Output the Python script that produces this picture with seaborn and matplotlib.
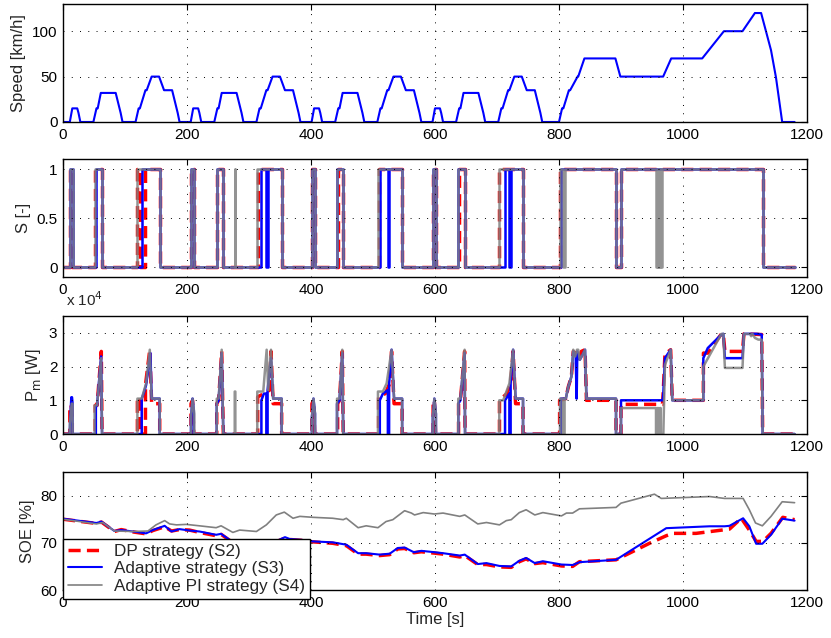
import numpy as np
import pandas as pd
import matplotlib
matplotlib.use('Agg')
import matplotlib.pyplot as plt
import seaborn as sns

# ---- speed profile (NEDC): one urban block, used 4 times, then the extra-urban part
ece_time = [0, 11, 15, 23, 25, 28, 49, 54, 56, 61, 85, 93, 96, 117, 122, 124, 133, 135, 143, 155, 163, 176, 185, 188, 195]
ece_speed = [0, 0, 15, 15, 10, 0, 0, 15, 15, 32, 32, 10, 0, 0, 15, 15, 35, 35, 50, 50, 35, 35, 10, 0, 0]
ece_period = 195
eudc_time = [780, 800, 805, 807, 816, 818, 830, 831, 841, 891, 899, 968, 981, 1031, 1066, 1096, 1116, 1126, 1135, 1142, 1150, 1160, 1180]
eudc_speed = [0, 0, 15, 15, 35, 35, 50, 50, 70, 70, 50, 50, 70, 70, 100, 100, 120, 120, 97, 79, 49, 0, 0]

# ---- motor switch S: intervals where S = 1
s_dp_on = [(11, 15), (52, 63), (120, 124), (133, 156), (206.5, 211), (248, 258.6), (314, 352.7),
           (401.5, 406), (443, 452), (509, 547), (597, 601), (638, 648.5), (704, 742),
           (801, 892), (900, 1128.5)]
s_ad_on = [(11, 15.5), (53, 63), (127, 156), (206.5, 211), (248, 258.6), (320, 328), (330, 352.7),
           (401.5, 406.5), (442, 452), (511, 524), (526, 547), (596.5, 601.5), (637.6, 648.5),
           (713, 720), (722, 742), (803, 892), (900, 1128.5)]
s_pi_on = [(11, 15.5), (51, 63), (120, 156), (206.5, 211.8), (248, 258.6), (277, 278), (313.4, 352.7),
           (401.5, 406.5), (442, 452), (508, 547), (596.5, 601.5), (637.6, 648.5), (703.7, 742),
           (801.6, 806), (809, 892), (900, 956.5), (959, 960), (963, 964), (965.6, 1128.5)]

# ---- motor power P_m [x 10^4 W], (time, value) vertices
pm_dp = [(0, 0), (11, 0), (11, 0.86), (13, 0.86), (15, 0.5), (15, 0),
         (52, 0), (52, 0.85), (55, 0.85), (61.8, 2.45), (63, 0),
         (120, 0), (120, 1.0), (124, 1.1), (124, 0), (133, 0), (133, 1.45), (140, 2.5), (143, 0.9), (156, 0.9), (156, 0),
         (206.5, 0), (206.5, 0.9), (209, 1.0), (211, 0),
         (248, 0), (248, 0.9), (251, 1.0), (256, 2.45), (258.6, 0),
         (314, 0), (314, 1.1), (324, 1.2), (333, 1.3), (335.5, 2.45), (339, 0.9), (352.7, 0.9), (352.7, 0),
         (401.5, 0), (401.5, 0.9), (404, 1.0), (406, 0),
         (443, 0), (443, 0.9), (446, 1.0), (450.5, 2.45), (452, 0),
         (509, 0), (509, 1.1), (520, 1.2), (527, 1.5), (530, 2.45), (534, 0.9), (547, 0.9), (547, 0),
         (597, 0), (597, 0.9), (599, 1.0), (601, 0),
         (638, 0), (638, 0.9), (641, 1.0), (647.8, 2.45), (648.5, 0),
         (704, 0), (704, 1.0), (716, 1.2), (722, 1.5), (726, 2.45), (730, 0.9), (742, 0.9), (742, 0),
         (801, 0), (801, 1.0), (811, 1.05), (815, 1.4), (820, 1.7), (823, 2.45), (827, 2.35), (829, 2.45),
         (833.5, 2.25), (836, 2.45), (842, 2.5), (844.3, 1.0), (892, 1.0), (892, 0),
         (900, 0), (900, 0.88), (967, 0.88), (968.3, 1.3), (971, 2.4), (973, 2.4), (980.1, 2.5), (982.7, 1.0),
         (1032.8, 1.0), (1033, 2.4), (1040, 2.4), (1046, 2.55), (1062, 2.97), (1065, 2.97), (1067.6, 2.45),
         (1096, 2.45), (1098.3, 2.97), (1127, 2.95), (1128.5, 0), (1180, 0)]
pm_ad = [(0, 0), (11, 0), (11.5, 0.3), (13.5, 1.09), (14.5, 1.09), (15.5, 0.9), (15.5, 0),
         (53, 0), (53, 0.8), (55, 0.85), (61.5, 2.3), (63, 0),
         (127, 0), (127, 1.05), (130, 1.2), (134, 1.45), (141, 2.4), (143, 1.05), (156, 1.05), (156, 0),
         (206.5, 0), (206.5, 0.5), (209, 1.05), (211, 0.7), (211, 0),
         (248, 0), (248, 0.9), (251, 1.0), (256, 2.4), (258.6, 0),
         (320, 0), (320, 1.0), (324, 1.2), (328, 1.2), (328, 0), (330, 0), (330, 1.3), (335.5, 2.25),
         (339, 1.05), (352.7, 1.05), (352.7, 0),
         (401.5, 0), (401.5, 0.5), (404, 1.05), (406.5, 0.6), (406.5, 0),
         (442, 0), (442, 0.9), (446, 1.0), (450.5, 2.4), (452, 0),
         (511, 0), (511, 1.0), (516, 1.2), (524, 1.3), (524, 0), (526, 0), (526, 1.5), (530, 2.5),
         (534, 1.05), (547, 1.05), (547, 0),
         (596.5, 0), (596.5, 0.5), (599, 1.05), (601.5, 0.6), (601.5, 0),
         (637.6, 0), (637.6, 0.9), (641, 1.0), (647.8, 2.4), (648.5, 0),
         (713, 0), (713, 1.0), (720, 1.2), (720, 0), (722, 0), (722, 1.5), (726, 2.5), (730, 1.05), (742, 1.05), (742, 0),
         (803, 0), (803, 1.05), (811, 1.05), (815, 1.4), (820, 1.7), (823, 2.45), (827, 2.3), (828.5, 1.05),
         (829.5, 2.45), (833.5, 2.2), (838, 2.35), (842, 2.5), (844.3, 1.05), (892, 1.05), (892, 0),
         (900, 0), (900, 1.0), (967.2, 1.0), (968.3, 1.2), (970.9, 2.25), (980.1, 2.5), (982.7, 1.0),
         (1032.8, 1.0), (1032.8, 2.25), (1040, 2.55), (1062, 2.95), (1065, 2.97), (1067.6, 2.25),
         (1096, 2.25), (1098.3, 2.97), (1120, 2.97), (1127, 2.95), (1128.5, 0), (1180, 0)]
pm_pi = [(0, 0), (11, 0), (11, 0.3), (14, 0.9), (15.5, 0.9), (15.5, 0),
         (51, 0), (51, 0.85), (55, 0.85), (61.5, 2.25), (63, 0),
         (120, 0), (120, 1.05), (127, 1.05), (134, 1.5), (140, 2.5), (143, 1.05), (156, 1.05), (156, 0),
         (206.5, 0), (206.5, 0.5), (209, 1.05), (211.8, 0.6), (211.8, 0),
         (248, 0), (248, 1.05), (251, 1.05), (256, 2.5), (258.6, 0),
         (277, 0), (277, 1.26), (278, 1.26), (278, 0),
         (313.4, 0), (313.4, 1.26), (323, 1.26), (328.5, 2.5), (331, 1.3), (335.5, 2.5), (339, 1.05),
         (352.7, 1.05), (352.7, 0),
         (401.5, 0), (401.5, 0.5), (404, 1.05), (406.5, 0.6), (406.5, 0),
         (442, 0), (442, 1.05), (446, 1.05), (450.5, 2.5), (452, 0),
         (508, 0), (508, 1.26), (516, 1.26), (522, 1.5), (530, 2.5), (534, 1.05), (547, 1.05), (547, 0),
         (596.5, 0), (596.5, 0.5), (599, 1.05), (601.5, 0.6), (601.5, 0),
         (637.6, 0), (637.6, 1.05), (641, 1.05), (647.8, 2.5), (648.5, 0),
         (703.7, 0), (703.7, 1.0), (710, 1.0), (716, 1.3), (720, 1.5), (726, 2.5), (730, 1.05), (742, 1.05), (742, 0),
         (801.6, 0), (801.6, 1.05), (806, 1.05), (806, 0), (809, 0), (809, 1.05), (811, 1.05), (815, 1.4),
         (820, 1.7), (823, 2.5), (826, 2.3), (829, 2.5), (831, 2.5), (833.5, 2.2), (838, 2.35), (842, 2.5),
         (844.3, 1.05), (892, 1.05), (892, 0),
         (900, 0), (900, 0.77), (956.5, 0.77), (956.5, 0), (959, 0), (959, 0.77), (960, 0.77), (960, 0),
         (963, 0), (963, 0.77), (964, 0.77), (964, 0), (968.3, 0), (970.9, 2.05), (980.1, 2.5), (982.7, 1.0),
         (1032.8, 1.0), (1032.8, 2.0), (1062, 2.97), (1065, 2.97), (1067.6, 1.96), (1096, 1.96),
         (1098.3, 2.97), (1108, 2.97), (1110, 2.9), (1112, 2.97), (1116, 2.85), (1121.5, 2.8), (1127, 2.8),
         (1128.5, 0), (1180, 0)]

# ---- state of energy [%]
soe_dp_time = [0, 54, 62, 83, 94, 113, 134, 145, 164, 175, 188, 204, 220, 247, 255, 269, 285, 300, 315, 330,
               345, 358, 366, 387, 403, 435, 457, 476, 489, 511, 527, 540, 551, 566, 578, 600, 613, 640, 648,
               669, 683, 704, 723, 736, 747, 761, 774, 804, 822, 833, 892, 946, 973, 984, 1021, 1075, 1094,
               1107, 1118, 1129, 1142, 1161, 1180]
soe_dp = [75.0, 74.1, 74.4, 72.4, 72.8, 72.3, 71.9, 72.6, 73.4, 72.5, 72.8, 72.7, 72.2, 71.5, 71.8, 70.5,
          69.7, 69.4, 69.2, 69.5, 70.3, 71.0, 70.7, 70.5, 70.2, 69.9, 69.4, 67.6, 67.6, 67.3, 67.5, 68.7,
          68.8, 67.9, 68.1, 67.8, 67.6, 67.0, 67.3, 65.4, 65.4, 64.9, 64.8, 66.0, 66.6, 65.6, 65.8, 65.1,
          65.0, 66.0, 66.4, 69.9, 71.5, 72.0, 72.0, 72.9, 75.2, 72.7, 70.3, 70.3, 72.0, 75.4, 74.9]
soe_ad_time = [0, 54, 62, 83, 94, 113, 134, 145, 164, 175, 188, 204, 220, 247, 255, 269, 285, 300, 315, 330,
               345, 358, 366, 387, 403, 435, 457, 476, 489, 511, 527, 540, 551, 566, 578, 600, 613, 640, 648,
               669, 683, 704, 723, 736, 747, 761, 774, 804, 822, 833, 892, 973, 1043, 1067, 1075, 1097, 1107,
               1118, 1128, 1142, 1160, 1180]
soe_ad = [75.1, 74.2, 74.5, 72.5, 72.7, 72.4, 72.0, 72.7, 73.6, 72.4, 72.9, 72.6, 72.4, 71.7, 71.9, 70.6,
          69.8, 69.6, 69.4, 69.7, 70.4, 71.2, 70.8, 70.6, 70.3, 70.1, 69.6, 67.8, 67.8, 67.5, 67.7, 68.9,
          69.0, 68.0, 68.3, 68.0, 67.8, 67.3, 67.5, 65.5, 65.7, 65.1, 65.0, 66.2, 66.8, 65.7, 66.1, 65.4,
          65.3, 65.9, 66.4, 73.1, 73.5, 73.5, 73.6, 75.2, 73.5, 69.8, 69.8, 71.7, 75.1, 74.7]
soe_pi_time = [0, 54, 64, 83, 113, 137, 150, 164, 172, 183, 199, 220, 247, 255, 274, 285, 312, 328, 344, 357,
               371, 382, 403, 435, 452, 457, 476, 489, 508, 521, 532, 551, 562, 567, 581, 599, 613, 640, 648,
               669, 683, 704, 715, 723, 736, 747, 761, 774, 804, 812, 822, 833, 892, 900, 954, 965, 1043, 1067,
               1097, 1107, 1117, 1128, 1142, 1160, 1180]
soe_pi = [75.0, 74.0, 74.3, 72.5, 72.4, 72.5, 73.8, 74.7, 74.0, 73.8, 73.9, 73.6, 73.2, 73.6, 72.2, 72.7,
          72.4, 73.8, 75.9, 76.5, 75.2, 75.6, 75.4, 75.2, 74.9, 75.2, 73.2, 73.6, 73.2, 74.5, 74.9, 76.8,
          76.3, 75.9, 76.4, 76.1, 76.3, 75.6, 75.9, 74.0, 74.3, 73.8, 74.7, 74.9, 76.4, 77.0, 75.9, 76.4,
          75.7, 76.3, 76.3, 77.2, 77.5, 78.4, 80.3, 79.4, 79.8, 79.4, 79.4, 77.0, 74.2, 73.6, 75.6, 78.7, 78.5]

labels = ['DP strategy (S2)', 'Adaptive strategy (S3)', 'Adaptive PI strategy (S4)']
RED, BLUE, GRAY = '#ff0000', '#0000ff', '#808080'
t_end = 1180


def step_from_intervals(intervals):
    t, s = [0], [0]
    for a, b in intervals:
        t += [a, a, b, b]
        s += [0, 1, 1, 0]
    t.append(t_end)
    s.append(0)
    return t, s


def line(ax, x, y, **kw):
    sns.lineplot(x=np.asarray(x, float), y=np.asarray(y, float), ax=ax,
                 estimator=None, sort=False, errorbar=None, **kw)


sns.set_theme(style='white')
plt.rcParams['font.family'] = ['Liberation Sans', 'DejaVu Sans']

fig = plt.figure(figsize=(8.31, 6.38), dpi=100)
left, width, height = 0.0758, 0.8953, 0.185
bottoms = [0.8088, 0.5654, 0.3197, 0.0752]
axes = [fig.add_axes([left, b, width, height]) for b in bottoms]
ax1, ax2, ax3, ax4 = axes

# speed
speed_t, speed_v = [], []
for k in range(4):
    speed_t += [t + k * ece_period for t in ece_time]
    speed_v += ece_speed
speed_t += eudc_time
speed_v += eudc_speed
df_speed = pd.DataFrame({'Time': speed_t, 'Speed': speed_v})
sns.lineplot(data=df_speed, x='Time', y='Speed', ax=ax1, color=BLUE, linewidth=1.5,
             estimator=None, sort=False, errorbar=None)
ax1.set_ylim(0, 130)
ax1.set_yticks([0, 50, 100])
ax1.set_ylabel('Speed [km/h]')

# switch signal
dash = (0, (3.5, 1.8))
for on, col, kw in [(s_dp_on, RED, dict(linewidth=2.5, linestyle=dash)),
                    (s_ad_on, BLUE, dict(linewidth=1.8)),
                    (s_pi_on, GRAY, dict(linewidth=1.8, alpha=0.85))]:
    tt, ss = step_from_intervals(on)
    line(ax2, tt, ss, color=col, **kw)
ax2.set_ylim(-0.1, 1.1)
ax2.set_yticks([0, 0.5, 1])
ax2.set_yticklabels(['0', '0.5', '1'])
ax2.set_ylabel('S [-]')

# motor power
for pts, col, kw in [(pm_dp, RED, dict(linewidth=2.5, linestyle=dash)),
                     (pm_ad, BLUE, dict(linewidth=1.8)),
                     (pm_pi, GRAY, dict(linewidth=1.8, alpha=0.85))]:
    tt, vv = zip(*pts)
    line(ax3, tt, vv, color=col, **kw)
ax3.set_ylim(0, 3.5)
ax3.set_yticks([0, 1, 2, 3])
ax3.set_yticklabels(['0', '1', '2', '3'])
ax3.set_ylabel(r'P$_\mathrm{m}$ [W]')
ax3.text(0.004, 1.06, r'x 10$^4$', transform=ax3.transAxes, ha='left', va='bottom', fontsize=11)

# state of energy
line(ax4, soe_dp_time, soe_dp, color=RED, linewidth=2.5, linestyle=dash)
line(ax4, soe_ad_time, soe_ad, color=BLUE, linewidth=1.5)
line(ax4, soe_pi_time, soe_pi, color=GRAY, linewidth=1.2)
ax4.set_ylim(60, 85)
ax4.set_yticks([60, 70, 80])
ax4.set_ylabel('SOE [%]')
ax4.set_xlabel('Time [s]', fontsize=12, labelpad=2)
leg = ax4.legend(ax4.lines[:3], labels, loc='lower left', bbox_to_anchor=(0, -0.076),
                 borderaxespad=0, fancybox=False, framealpha=1, edgecolor='black',
                 fontsize=12.3, handlelength=2.0, labelspacing=0.15, borderpad=0.3,
                 handletextpad=0.7)
leg.get_frame().set_linewidth(1.0)
leg.set_zorder(10)

for ax in axes:
    ax.set_xlim(0, 1200)
    ax.set_xticks(range(0, 1201, 200))
    if ax is not ax4:
        ax.set_xlabel('')
    ax.yaxis.label.set_size(12)
    ax.tick_params(direction='in', top=True, right=True, length=4, width=0.8,
                   labelsize=11, colors='black', pad=4)
    ax.grid(True, color='black', linewidth=0.7, linestyle=(0, (1, 7.5)))
    for sp in ax.spines.values():
        sp.set_color('black')
        sp.set_linewidth(1.0)
    ax.set_axisbelow(False)

fig.savefig('out.png', dpi=100)
